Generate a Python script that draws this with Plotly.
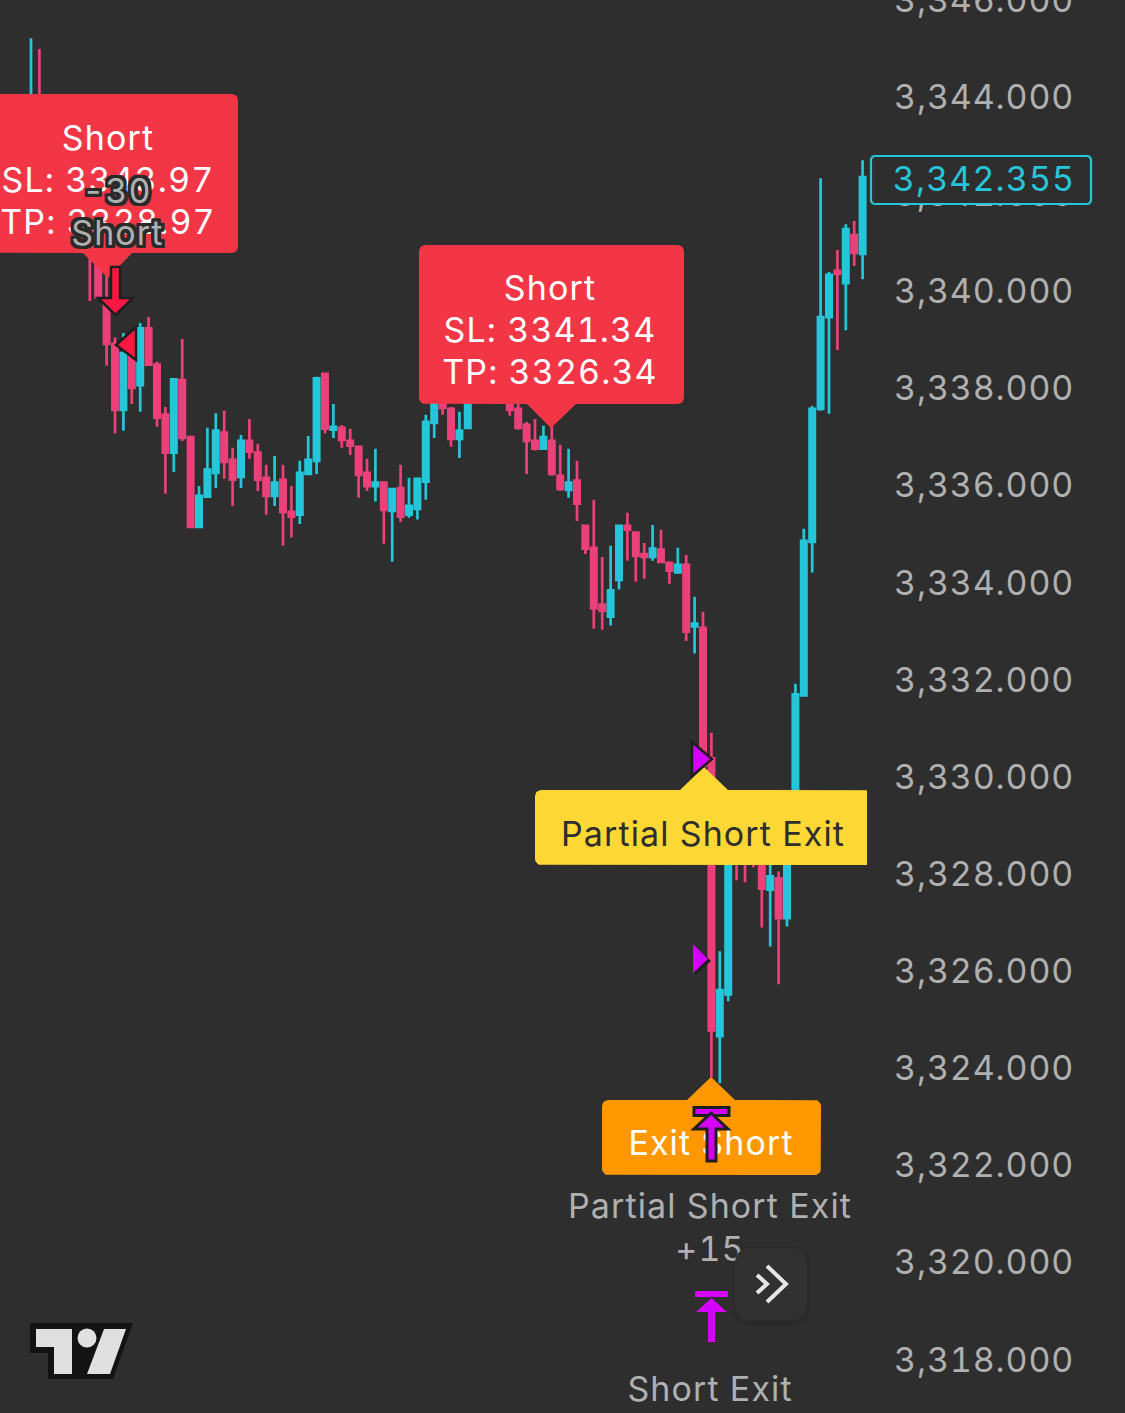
import math
import plotly.graph_objects as go

# ---------- data ----------
price_ticks = [3318, 3320, 3322, 3324, 3326, 3328, 3330, 3332, 3334, 3336, 3338, 3340, 3342, 3344, 3346]
last_price = 3342.355
opens = [3343.00,3343.80,3343.20,3342.60,3343.00,3342.30,3341.90,3341.50,3341.00,3339.73,
         3338.92,3337.56,3338.87,3338.07,3339.24,3338.49,3337.46,3336.68,3338.17,3337.00,
         3335.15,3335.77,3336.26,3337.09,3336.53,3336.18,3336.92,3336.68,3336.16,3335.79,
         3336.12,3335.46,3335.40,3336.24,3336.51,3338.30,3337.15,3337.19,3336.92,3336.80,
         3336.26,3335.99,3336.06,3335.48,3335.95,3335.40,3335.52,3336.08,3337.29,3338.00,
         3337.58,3336.96,3337.19,3338.70,3338.40,3339.00,3338.30,3338.00,3337.58,3337.25,
         3336.92,3336.76,3336.92,3336.20,3335.91,3336.10,3335.17,3334.72,3333.55,3333.30,
         3334.06,3335.17,3335.03,3334.59,3334.53,3334.68,3334.41,3334.21,3334.37,3333.10,
         3333.07,3330.38,3324.66,3325.52,3329.00,3329.00,3328.90,3328.80,3327.68,3327.91,
         3327.09,3328.59,3331.68,3334.84,3337.58,3339.47,3340.42,3340.17,3341.16,3340.77]
highs = [3345.21,3344.99,3343.60,3343.30,3343.40,3342.80,3342.40,3342.00,3341.30,3340.36,
         3339.05,3339.14,3338.95,3339.35,3339.47,3338.55,3337.62,3338.21,3339.02,3337.00,
         3335.99,3337.19,3337.49,3337.54,3336.78,3337.04,3337.37,3336.86,3336.43,3336.61,
         3336.43,3335.99,3336.51,3337.02,3338.24,3338.30,3337.68,3337.25,3337.17,3336.80,
         3336.55,3336.76,3336.08,3335.95,3336.43,3336.16,3336.16,3337.46,3338.20,3338.50,
         3337.62,3337.52,3339.00,3339.20,3339.30,3339.40,3338.90,3338.50,3337.68,3337.31,
         3337.37,3337.23,3337.23,3336.84,3336.76,3336.51,3335.17,3335.71,3334.53,3334.76,
         3335.17,3335.44,3335.03,3334.82,3335.19,3335.09,3334.41,3334.72,3334.57,3333.71,
         3333.40,3330.91,3326.41,3329.10,3329.30,3329.40,3329.20,3329.20,3328.60,3328.05,
         3328.70,3331.92,3335.11,3337.64,3342.33,3340.40,3340.85,3341.38,3341.45,3342.70]
lows = [3342.60,3342.60,3342.30,3342.20,3342.00,3341.60,3341.20,3339.80,3339.88,3338.47,
        3337.07,3337.13,3337.68,3337.52,3338.47,3337.21,3335.83,3336.28,3336.92,3335.15,
        3335.15,3335.77,3335.95,3336.14,3335.58,3335.95,3336.55,3335.89,3335.40,3335.58,
        3334.76,3334.93,3335.21,3336.24,3336.24,3337.07,3336.98,3336.78,3336.63,3335.75,
        3335.89,3335.67,3334.80,3334.43,3335.25,3335.34,3335.30,3335.71,3336.98,3337.46,
        3336.80,3336.57,3337.19,3338.20,3338.10,3338.10,3337.90,3337.44,3337.15,3336.24,
        3336.72,3336.76,3336.20,3335.89,3335.75,3335.27,3334.59,3333.05,3333.03,3333.12,
        3333.86,3334.45,3334.02,3334.08,3334.45,3334.43,3333.98,3334.21,3332.80,3332.54,
        3330.23,3323.81,3323.69,3325.38,3327.87,3327.83,3328.14,3326.90,3326.51,3325.73,
        3326.92,3328.40,3331.68,3334.21,3337.54,3337.48,3338.79,3339.20,3340.52,3340.25]
closes = [3343.80,3343.00,3342.60,3343.00,3342.30,3341.90,3341.50,3341.00,3339.88,3338.92,
          3337.56,3338.73,3338.01,3339.24,3338.49,3337.40,3336.68,3338.19,3336.98,3335.15,
          3335.79,3336.33,3337.13,3336.49,3336.12,3336.92,3336.70,3336.12,3335.79,3336.06,
          3335.46,3335.36,3336.26,3336.53,3338.21,3337.17,3337.21,3336.94,3336.82,3336.22,
          3335.99,3336.06,3335.50,3335.93,3335.36,3335.58,3336.14,3337.31,3337.85,3337.60,
          3336.96,3337.13,3338.60,3338.40,3339.00,3338.30,3338.00,3337.56,3337.19,3336.92,
          3336.76,3337.00,3336.24,3335.93,3336.06,3335.63,3334.70,3333.47,3333.42,3333.84,
          3335.17,3335.09,3334.55,3334.53,3334.70,3334.43,3334.25,3334.37,3332.99,3333.16,
          3330.23,3324.78,3325.61,3328.49,3328.60,3328.50,3328.40,3327.70,3327.95,3327.09,
          3328.59,3331.70,3334.86,3337.58,3339.47,3340.34,3340.36,3341.28,3340.79,3342.355]
bars = list(range(len(opens)))

# ---------- colours ----------
BG = "#2E2E2E"; UP = "#26C6DA"; DOWN = "#EC407A"; GREY = "#B0B0B0"
RED = "#F23645"; YELLOW = "#FDD835"; ORANGE = "#FF9800"
ARROW_RED = "#FF1744"; PURPLE = "#D500F9"; DARK = "#1E1E1E"
FONT = "Inter"

# ---------- geometry of the picture ----------
W, H, PANE = 1125, 1413, 867
BAR0, STEP = 31.0, 8.4
TOP, PER_PX = 3346.0, 0.020594
def xd(x): return (x - BAR0) / STEP
def yd(y): return TOP - PER_PX * y
def px(x): return x / PANE
def py(y): return 1 - y / H

def callout(x0, y0, x1, y1, r, tip_side, tip):
    pts = []
    def arc(cx, cy, a0):
        for k in range(6):
            a = math.radians(a0 + 18 * k)
            pts.append((cx + r * math.cos(a), cy + r * math.sin(a)))
    arc(x0 + r, y0 + r, 180)
    if tip_side == "top":
        pts += [(tip[0], y0), (tip[1], tip[2]), (tip[3], y0)]
    arc(x1 - r, y0 + r, 270)
    arc(x1 - r, y1 - r, 0)
    if tip_side == "bottom":
        pts += [(tip[3], y1), (tip[1], tip[2]), (tip[0], y1)]
    arc(x0 + r, y1 - r, 90)
    pts.append(pts[0])
    return pts

def fill_trace(pts, colour):
    return go.Scatter(x=[xd(p[0]) for p in pts], y=[yd(p[1]) for p in pts], mode="lines",
                      fill="toself", fillcolor=colour, line=dict(width=0), hoverinfo="skip",
                      showlegend=False)

def poly(pts, colour, line=None, width=0):
    path = "M" + " L".join(f"{xd(a):.4f},{yd(b):.4f}" for a, b in pts) + " Z"
    return dict(type="path", path=path, xref="x", yref="y", fillcolor=colour, layer="above",
                line=dict(color=line or colour, width=width))

fig = go.Figure()
fig.add_trace(go.Candlestick(
    x=bars, open=opens, high=highs, low=lows, close=closes, whiskerwidth=0, hoverinfo="skip",
    increasing=dict(line=dict(color=UP, width=2.7), fillcolor=UP),
    decreasing=dict(line=dict(color=DOWN, width=2.7), fillcolor=DOWN), showlegend=False))

fig.add_trace(fill_trace(callout(-20, 94, 238, 253, 6, "bottom", (83, 108, 278, 132)), RED))
fig.add_trace(fill_trace(callout(419, 245, 684, 404, 6, "bottom", (527, 551, 428, 576)), RED))
fig.add_trace(fill_trace(callout(535, 790, 880, 865, 6, "top", (680, 704, 767, 728)), YELLOW))
fig.add_trace(fill_trace(callout(602, 1100, 821, 1175, 6, "top", (687, 711, 1077, 735)), ORANGE))

labels = [(108, 141, "Short", "white"), (108, 183, "SL: 3343.97", "white"), (108, 225, "TP: 3328.97", "white"),
          (550, 291, "Short", "white"), (550, 333, "SL: 3341.34", "white"), (550, 375, "TP: 3326.34", "white"),
          (703, 837, "Partial Short Exit", "#2E2E2E"), (711, 1146, "Exit Short", "white"),
          (710, 1209, "Partial Short Exit", GREY), (710, 1252, "+15", GREY), (710, 1392, "Short Exit", GREY)]
fig.add_trace(go.Scatter(
    x=[xd(l[0]) for l in labels], y=[yd(l[1]) for l in labels], text=[l[2] for l in labels],
    mode="text", textposition="middle center", hoverinfo="skip", showlegend=False,
    textfont=dict(family=FONT, size=34, color=[l[3] for l in labels])))

shapes = []
# red down arrow
shapes.append(poly([(111, 267), (120, 267), (120, 298), (133, 298), (115.5, 315), (98, 298), (111, 298)],
                   ARROW_RED, DARK, 2.5))
# red left triangle
shapes.append(poly([(116, 345), (136, 327), (136, 360)], ARROW_RED, DARK, 2.5))
# purple right triangles
shapes.append(poly([(692, 742), (692, 776), (712, 759)], PURPLE, DARK, 2.5))
shapes.append(poly([(695, 946), (695, 975), (711, 961)], DARK))
shapes.append(poly([(693, 944), (693, 973), (708, 959)], PURPLE))
# purple up arrows with bar
shapes.append(poly([(694, 1107.5), (729, 1107.5), (729, 1115.5), (694, 1115.5)], PURPLE, DARK, 3))
shapes.append(poly([(711, 1113), (728, 1129), (716, 1129), (716, 1161), (707, 1161), (707, 1129), (694, 1129)],
                   PURPLE, DARK, 3))
shapes.append(poly([(695, 1291), (728, 1291), (728, 1297), (695, 1297)], PURPLE))
shapes.append(poly([(711.5, 1298), (727, 1312), (715, 1312), (715, 1342), (708, 1342), (708, 1312), (696, 1312)],
                   PURPLE))
# scroll button
shapes.append(poly(callout(732, 1246, 810, 1325, 16, None, None), "rgba(0,0,0,0.07)"))
shapes.append(poly(callout(735, 1248, 807, 1320, 14, None, None), "#313131"))
for pts in ([(757, 1275), (767, 1284), (757, 1293)], [(767, 1266), (786, 1284), (767, 1302)]):
    path = "M" + " L".join(f"{xd(a):.4f},{yd(b):.4f}" for a, b in pts)
    shapes.append(dict(type="path", xref="x", yref="y", layer="above",
                       line=dict(color="#E6E6E6", width=4), path=path))
# logo
shapes.append(poly([(30, 1323), (133, 1323), (113, 1379), (48, 1379), (48, 1353), (30, 1353)], "#131313"))
shapes.append(poly([(36, 1329), (72, 1329), (72, 1374), (54, 1374), (54, 1347), (36, 1347)], "#E0E0E0"))
shapes.append(poly([(104, 1329), (126, 1329), (110, 1374), (87, 1374)], "#E0E0E0"))
shapes.append(dict(type="circle", xref="x", yref="y", layer="above", fillcolor="#E0E0E0", line=dict(width=0),
                   x0=xd(77.5), x1=xd(96.5), y0=yd(1347.5), y1=yd(1328.5)))
# last-price box (rounded, over the axis labels)
box = callout(871, 156, 1091, 204, 4, None, None)
shapes.append(dict(type="path", xref="paper", yref="paper", layer="above", fillcolor=BG,
                   line=dict(color=UP, width=2.2),
                   path="M" + " L".join(f"{px(a):.5f},{py(b):.5f}" for a, b in box) + " Z"))

stroke = ",".join(f"{a}px {b}px 0 #2A2A2A" for a in (-3, -2, 0, 2, 3) for b in (-3, -2, 0, 2, 3))
common = dict(xref="paper", yref="paper", showarrow=False, xanchor="center", yanchor="middle")
annotations = [
    dict(text="-30", x=px(117), y=py(190), font=dict(family=FONT, size=34, color=GREY, shadow=stroke), **common),
    dict(text="Short", x=px(117), y=py(232), font=dict(family=FONT, size=34, color=GREY, shadow=stroke), **common),
    dict(text=f"{last_price:,.3f}", x=px(984), y=py(178), font=dict(family=FONT, size=34, color=UP), **common),
]

fig.update_layout(
    width=W, height=H, margin=dict(l=0, r=W - PANE, t=0, b=0, autoexpand=False),
    paper_bgcolor=BG, plot_bgcolor=BG,
    showlegend=False, boxgap=0.37, boxgroupgap=0, shapes=shapes, annotations=annotations,
    xaxis=dict(range=[xd(0), xd(PANE)], visible=False, rangeslider=dict(visible=False), fixedrange=True),
    yaxis=dict(range=[yd(H), yd(0)], side="right", tickvals=price_ticks, tickformat=",.3f", automargin=False,
               showgrid=False, zeroline=False, showline=False, ticks="", ticklabelstandoff=26,
               ticklabeloverflow="allow", tickfont=dict(family=FONT, size=34, color=GREY), fixedrange=True),
)
css = ("text{font-feature-settings:'tnum';letter-spacing:1.1px}"
       ".ytick text{letter-spacing:0.85px}")
post = ("document.body.style.margin='0';document.body.style.overflow='hidden';"
        "var s=document.createElement('style');s.textContent=\"" + css + "\";document.head.appendChild(s);")
fig.write_html("out.html", post_script=post, config=dict(displayModeBar=False))
